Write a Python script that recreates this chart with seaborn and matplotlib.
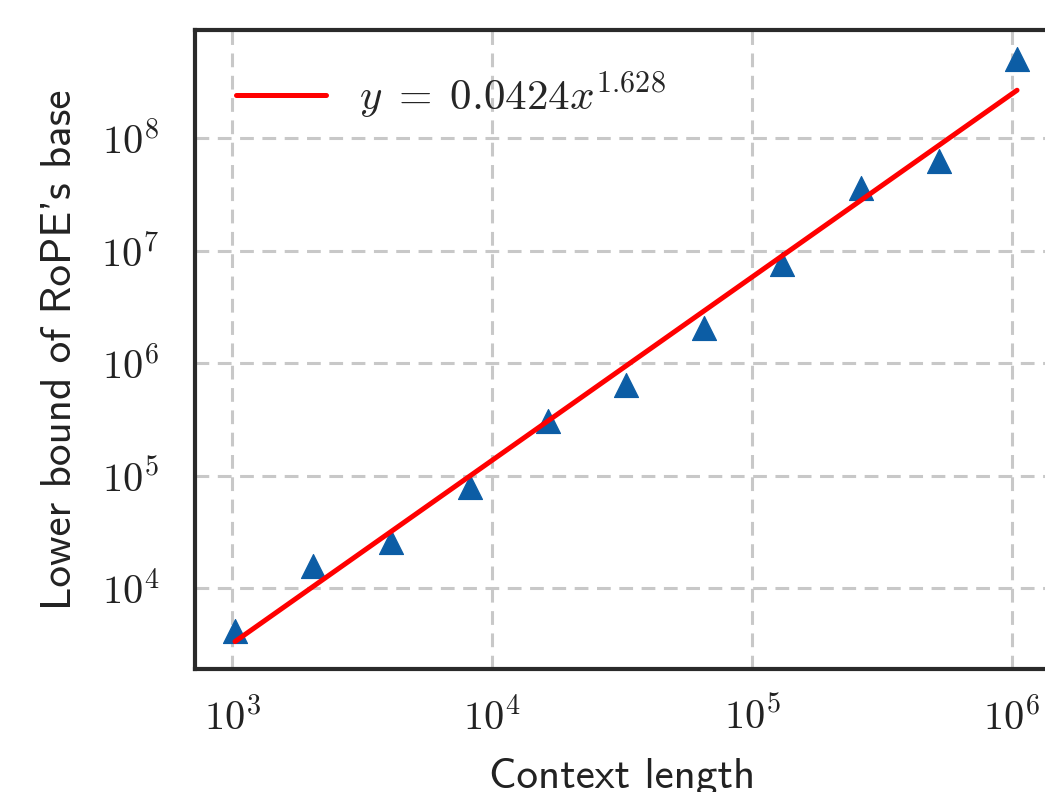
import os
import numpy as np
import pandas as pd
import matplotlib
matplotlib.use("Agg")
import matplotlib.pyplot as plt
from matplotlib import font_manager
import seaborn as sns

# ---- data ----
context_lengths = [1024, 2048, 4096, 8192, 16384, 32768, 65536, 131072, 262144, 524288, 1048576]
base_lower_bound = [4.2e3, 1.58e4, 2.6e4, 8.0e4, 3.06e5, 6.4e5, 2.08e6, 7.7e6, 3.6e7, 6.3e7, 5.1e8]
fit_coef = 0.0424
fit_exp = 1.628
fit_label = r"$y\;=\;0.0424x^{1.628}$"
x_ticks = [1e3, 1e4, 1e5, 1e6]
x_tick_labels = [r"$10^{3}$", r"$10^{4}$", r"$10^{5}$", r"$10^{6}$"]
y_ticks = [1e4, 1e5, 1e6, 1e7, 1e8]
y_tick_labels = [r"$10^{4}$", r"$10^{5}$", r"$10^{6}$", r"$10^{7}$", r"$10^{8}$"]
x_label = "Context length"
y_label = "Lower bound of RoPE's base"

sns.set_theme(style="whitegrid")
cmss_path = os.path.join(matplotlib.get_data_path(), "fonts", "ttf", "cmss10.ttf")
font_manager.fontManager.addfont(cmss_path)
cmss_name = font_manager.FontProperties(fname=cmss_path).get_name()
plt.rcParams["font.family"] = ["DejaVu Sans"]
plt.rcParams["mathtext.fontset"] = "cm"

df = pd.DataFrame({"x": context_lengths, "y": base_lower_bound})
fit_df = pd.DataFrame({"x": context_lengths,
                       "y": [fit_coef * v ** fit_exp for v in context_lengths]})

fig = plt.figure(figsize=(10.45, 7.92), dpi=100)
ax = fig.add_axes([195 / 1045, 1 - 669 / 792, (1049 - 195) / 1045, (669 - 30) / 792])

sns.scatterplot(data=df, x="x", y="y", marker="^", s=300, color="#0C5DA5",
                edgecolor="#0C5DA5", linewidth=0.8, ax=ax, zorder=3)
sns.lineplot(data=fit_df, x="x", y="y", color="#ff0000", linewidth=3.6,
             label=fit_label, ax=ax, zorder=4, solid_capstyle="round")

ax.set_xscale("log")
ax.set_yscale("log")
ax.set_xlim(10 ** 2.8564, 10 ** 6.1436)
ax.set_ylim(10 ** 3.2844, 10 ** 8.9644)
ax.set_xticks(x_ticks)
ax.set_xticklabels(x_tick_labels)
ax.set_yticks(y_ticks)
ax.set_yticklabels(y_tick_labels)
ax.minorticks_off()
ax.tick_params(axis="both", which="major", labelsize=29, length=0, colors="#222222")
ax.tick_params(axis="x", pad=21)
ax.tick_params(axis="y", pad=26)

ax.grid(True, which="major", color="#c8c8c8", linestyle=(0, (4.5, 2.8)), linewidth=2.2)
for sp in ax.spines.values():
    sp.set_color("#2a2a2a")
    sp.set_linewidth(3.0)

ax.set_xlabel(x_label, fontfamily=[cmss_name, "DejaVu Sans"], fontsize=31,
              color="#222222", labelpad=14)
ax.set_ylabel(y_label, fontfamily=[cmss_name, "DejaVu Sans"], fontsize=31,
              color="#222222", labelpad=16)

leg = ax.legend(loc="upper left", frameon=False, fontsize=31, handlelength=2.1,
                handletextpad=0.75, borderaxespad=0.55)

fig.savefig("out.png", dpi=100)
